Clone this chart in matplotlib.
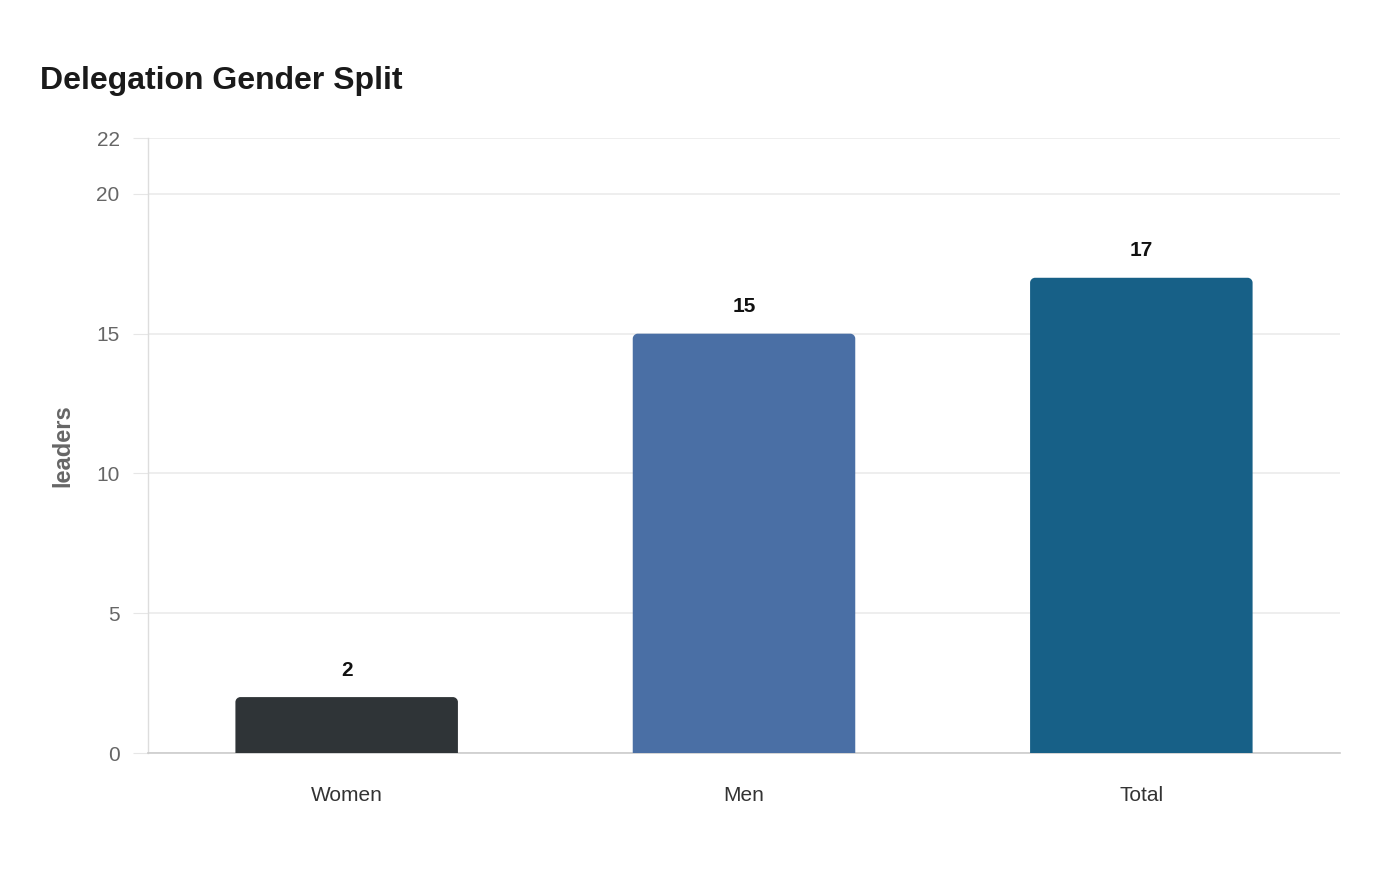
import numpy as np
import matplotlib
matplotlib.use("Agg")
import matplotlib.pyplot as plt
from matplotlib.path import Path
from matplotlib.patches import PathPatch

categories = ["Women", "Men", "Total"]
values = [2, 15, 17]
bar_colors = ["#2f3437", "#4a6fa5", "#176087"]
y_ticks = [0, 5, 10, 15, 20, 22]

plt.rcParams['font.family'] = ['Liberation Sans', 'DejaVu Sans']


def rounded_top_bar(ax, x, h, width, color, r_px=5):
    # radius given in pixels, convert to data units per axis
    bbox = ax.get_window_extent()
    x0, x1 = ax.get_xlim()
    y0, y1 = ax.get_ylim()
    rx = r_px * (x1 - x0) / bbox.width
    ry = r_px * (y1 - y0) / bbox.height
    ry = min(ry, h / 2)
    left, right = x - width / 2, x + width / 2
    k = 0.5523
    verts = [
        (left, 0), (left, h - ry),
        (left, h - ry + k * ry), (left + rx - k * rx, h), (left + rx, h),
        (right - rx, h),
        (right - rx + k * rx, h), (right, h - ry + k * ry), (right, h - ry),
        (right, 0), (left, 0),
    ]
    codes = [Path.MOVETO, Path.LINETO,
             Path.CURVE4, Path.CURVE4, Path.CURVE4,
             Path.LINETO,
             Path.CURVE4, Path.CURVE4, Path.CURVE4,
             Path.LINETO, Path.CLOSEPOLY]
    patch = PathPatch(Path(verts, codes), facecolor=color, edgecolor="none", zorder=3)
    ax.add_patch(patch)


fig = plt.figure(figsize=(14, 8.8), dpi=100)
ax = fig.add_axes([148 / 1400, 1 - 753 / 880, (1340 - 148) / 1400, (753 - 138) / 880])
ax.set_xlim(-0.5, len(categories) - 0.5)
ax.set_ylim(0, 22)

x = np.arange(len(categories))
for xi, v, c in zip(x, values, bar_colors):
    rounded_top_bar(ax, xi, v, 0.56, c)
    ax.text(xi, v + 0.62, str(v), ha="center", va="bottom", fontsize=15,
            fontweight="bold", color="#111111", zorder=4)

ax.set_yticks(y_ticks)
ax.set_yticklabels([str(t) for t in y_ticks])
ax.set_xticks(x)
ax.set_xticklabels(categories)
ax.tick_params(axis="y", length=11, color="#e6e6e6", labelsize=15, labelcolor="#666666", pad=9.5)
ax.tick_params(axis="x", length=0, labelsize=15, labelcolor="#333333", pad=24)
ax.grid(axis="y", color="#ebebeb", linewidth=1.2, zorder=0)
ax.set_axisbelow(True)

for s in ["top", "right"]:
    ax.spines[s].set_visible(False)
ax.spines["left"].set_color("#dddddd")
ax.spines["left"].set_linewidth(1)
ax.spines["bottom"].set_color("#cccccc")
ax.spines["bottom"].set_linewidth(1.2)

ax.set_ylabel("leaders", fontsize=17, fontweight="bold", color="#666666", labelpad=16)

fig.text(40 / 1400, 1 - 81 / 880, "Delegation Gender Split", fontsize=23,
         fontweight="bold", color="#1a1a1a", ha="left", va="center")

fig.savefig("out.png", dpi=100, facecolor="white")
